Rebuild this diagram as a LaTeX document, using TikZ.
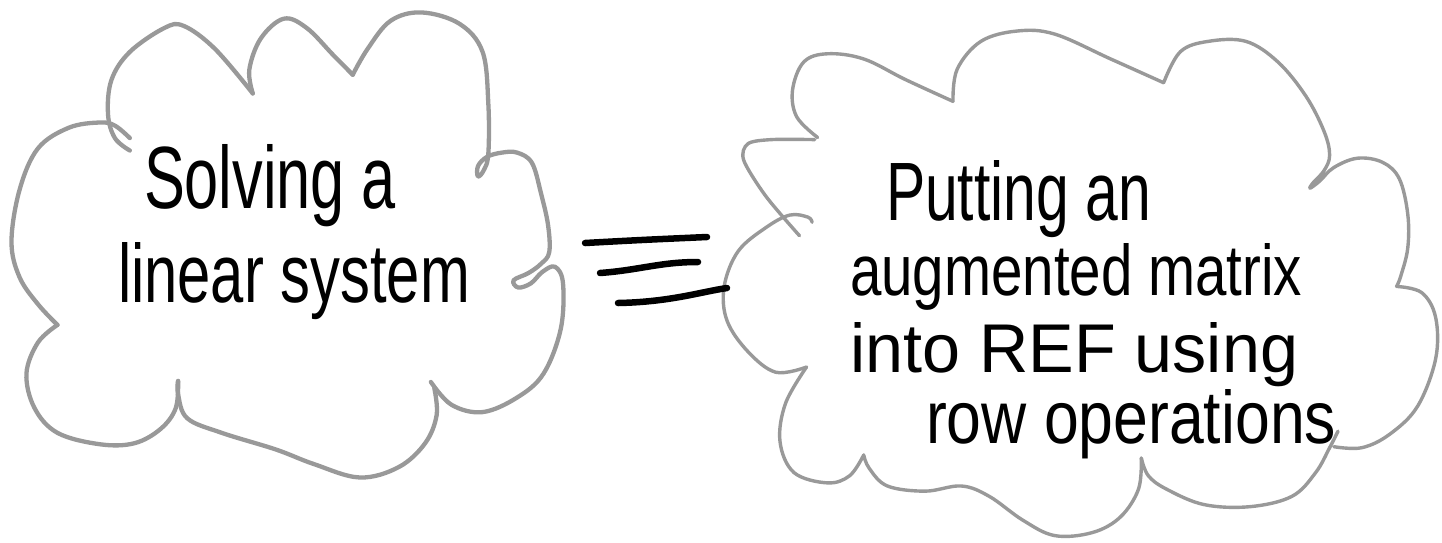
\documentclass[tikz,border=0pt]{standalone}
\usepackage{fontspec}
\setmainfont{Liberation Sans}
\usepackage{graphicx}
\definecolor{cloudgray}{HTML}{999999}
\tikzset{
  cloudL/.style={draw=cloudgray, line width=4.3pt, line cap=round, line join=round},
  cloudR/.style={draw=cloudgray, line width=3.4pt, line cap=round, line join=round},
  eqstroke/.style={draw=black, line width=6.5pt, line cap=round},
  hand/.style={inner sep=0pt, outer sep=0pt, anchor=base west, text=black}
}
\begin{document}
\begin{tikzpicture}[x=1pt,y=-1pt]
\useasboundingbox (0,0) rectangle (1442,542);
\fill[white] (0,0) rectangle (1442,542);

% ---------- left cloud ----------
\begin{scope}[xscale=1.149, yscale=1.038]
\draw[cloudL] plot[smooth,tension=0.6] coordinates {(113,145) (100,133) (94,110) (97,77) (113,50) (143,27) (160,25) (187,47) (220,90)};
\draw[cloudL] plot[smooth,tension=0.6] coordinates {(220,90) (217,67) (227,37) (247,18) (267,27) (290,53) (307,72)};
\draw[cloudL] plot[smooth,tension=0.6] coordinates {(307,72) (320,47) (340,20) (367,12) (400,23) (420,50) (425,100) (425,148) (421,164) (416,170) (416,160) (424,151) (437,147) (450,147) (463,157) (471,187) (477,217) (478,243) (471,254) (460,263) (447,270) (451,277) (462,273) (472,262) (483,257) (490,273) (488,317) (473,360) (450,383) (420,397) (393,390) (375,368)};
\draw[cloudL] plot[smooth,tension=0.6] coordinates {(378,374) (380,400) (370,427) (347,450) (313,460) (273,447) (240,433) (193,417) (163,403) (155,380) (155,367)};
\draw[cloudL] plot[smooth,tension=0.6] coordinates {(155,367) (153,393) (140,413) (117,427) (87,428) (50,417) (30,393) (23,360) (33,330) (50,313)};
\draw[cloudL] plot[smooth,tension=0.6] coordinates {(50,313) (33,293) (17,267) (10,233) (17,183) (33,143) (60,123) (87,118) (100,121) (113,133)};
\end{scope}

% ---------- right cloud ----------
\begin{scope}[shift={(720,0)}, xscale=1.395, yscale=1.034, shift={(-720,0)}]
\draw[cloudR] plot[smooth,tension=0.5] coordinates {(777,228) (753,190) (737,155) (740,139) (757,135) (788,135)};
\draw[cloudR] plot[smooth,tension=0.6] coordinates {(790,133) (775,113) (772,87) (780,60) (797,52) (823,57) (853,77) (887,98)};
\draw[cloudR] plot[smooth,tension=0.6] coordinates {(887,98) (890,67) (907,40) (933,30) (960,33) (1000,57) (1038,80)};
\draw[cloudR] plot[smooth,tension=0.6] coordinates {(1038,80) (1050,50) (1070,40) (1097,40) (1120,60) (1140,93) (1153,127) (1157,150) (1153,165) (1145,177) (1143,182) (1150,175) (1160,162) (1177,153) (1195,157) (1207,173) (1213,207) (1213,240) (1208,267) (1205,277)};
\draw[cloudR] plot[smooth,tension=0.6] coordinates {(1205,277) (1223,283) (1233,307) (1233,347) (1220,393) (1200,420) (1180,433) (1160,432)};
\draw[cloudR] plot[smooth,tension=0.6] coordinates {(1163,417) (1157,433) (1147,457) (1130,480) (1100,490) (1067,488) (1040,473) (1027,460) (1022,443)};
\draw[cloudR] plot[smooth,tension=0.6] coordinates {(1022,443) (1020,473) (1007,500) (987,515) (960,518) (937,503) (913,480) (893,470) (867,475) (840,470) (827,453) (823,440)};
\draw[cloudR] plot[smooth,tension=0.6] coordinates {(823,440) (813,460) (797,467) (773,457) (763,427) (767,390) (782,355)};
\draw[cloudR] plot[smooth,tension=0.6] coordinates {(782,355) (760,360) (740,340) (725,310) (723,277) (733,243) (753,220) (770,208) (783,210) (786,215)};
\end{scope}

% ---------- equivalence strokes ----------
\draw[eqstroke] (585,243) .. controls (640,240) .. (707,237);
\draw[eqstroke] (600,273) .. controls (640,270) and (660,262) .. (698,262);
\draw[eqstroke] (618,303) .. controls (670,302) and (700,292) .. (727,288);

% ---------- texts ----------
\node[hand] (l1) at (144,208) {\resizebox{252pt}{64pt}{Solving a}};
\node[hand] (l2) at (118,302) {\resizebox{352pt}{60pt}{linear system}};
\node[hand] (r1) at (886,220) {\resizebox{265pt}{60pt}{Putting an}};
\node[hand] (r2) at (850,295) {\resizebox{452pt}{52pt}{augmented matrix}};
\node[hand] (r3) at (850,372) {\resizebox{448pt}{50pt}{into REF using}};
\node[hand] (r4) at (926,443) {\resizebox{410pt}{54pt}{row operations}};
\end{tikzpicture}
\end{document}
